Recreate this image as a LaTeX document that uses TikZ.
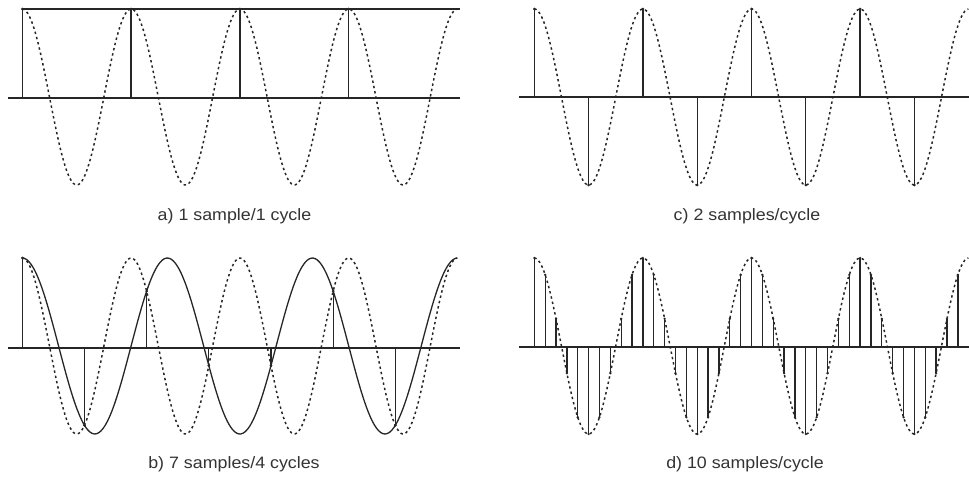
\documentclass[tikz,border=0pt]{standalone}
\usepackage{fontspec}
\setmainfont{Liberation Sans}
\usepackage{graphicx}
\tikzset{
  dotcurve/.style={line width=1.5pt, dash pattern=on 2.4pt off 3pt, black!85},
  solidcurve/.style={line width=1.3pt, black!85},
  stem/.style={line width=1.3pt, black!85},
  axisline/.style={line width=1.3pt, black!85},
  tipdot/.style={fill=black!85},
  caption/.style={font=\fontsize{16.5}{19}\selectfont, text=black!80, inner sep=0pt, anchor=base}
}
\newcommand{\capt}[1]{\scalebox{1.08}[1]{#1}}
\begin{document}
\begin{tikzpicture}[x=1pt,y=-1pt]
\useasboundingbox (0,0) rectangle (969,477);
% ---------- panel a ----------
\def\xa{22.3}\def\Pa{108.8}\def\yca{97}\def\Aa{88}
\draw[axisline] (8,98) -- (460,98);
\draw[solidcurve] (\xa,\yca-\Aa) -- (460,\yca-\Aa);
\draw[dotcurve] plot[variable=\t, domain=0:4, samples=240, smooth] ({\xa+\t*\Pa},{\yca-\Aa*cos(360*\t)});
\foreach \k in {0,...,3}{
  \draw[stem] (\xa+\k*\Pa,98) -- (\xa+\k*\Pa,\yca-\Aa);
  \fill[tipdot] (\xa+\k*\Pa,\yca-\Aa) circle (1.5pt);
}
\node[caption] (capa) at (234.5,220) {\capt{a) 1 sample/1 cycle}};
% ---------- panel b ----------
\def\ycb{346}
\draw[axisline] (8,348) -- (460,348);
\draw[dotcurve] plot[variable=\t, domain=0:4, samples=240, smooth] ({\xa+\t*\Pa},{\ycb-\Aa*cos(360*\t)});
\draw[solidcurve] plot[variable=\t, domain=0:4, samples=200, smooth] ({\xa+\t*\Pa},{\ycb-\Aa*cos(270*\t)});
\foreach \k in {0,...,6}{
  \pgfmathsetmacro{\sx}{\xa+\k*4*\Pa/7}
  \pgfmathsetmacro{\sy}{\ycb-\Aa*cos(360*4*\k/7)}
  \draw[stem] (\sx,348) -- (\sx,\sy);
  \fill[tipdot] (\sx,\sy) circle (1.5pt);
}
\node[caption] (capb) at (234,468) {\capt{b) 7 samples/4 cycles}};
% ---------- panel c ----------
\def\xc{534.3}\def\Pc{108.6}
\draw[axisline] (519,97) -- (969,97);
\draw[dotcurve] plot[variable=\t, domain=0:4, samples=240, smooth] ({\xc+\t*\Pc},{\yca-\Aa*cos(360*\t)});
\foreach \k in {0,...,7}{
  \pgfmathsetmacro{\sx}{\xc+\k*\Pc/2}
  \pgfmathsetmacro{\sy}{\yca-\Aa*cos(180*\k)}
  \draw[stem] (\sx,97) -- (\sx,\sy);
  \fill[tipdot] (\sx,\sy) circle (1.5pt);
}
\node[caption] (capc) at (747,220) {\capt{c) 2 samples/cycle}};
% ---------- panel d ----------
\draw[axisline] (519,347) -- (969,347);
\draw[dotcurve] plot[variable=\t, domain=0:4, samples=240, smooth] ({\xc+\t*\Pc},{\ycb-\Aa*cos(360*\t)});
\foreach \k in {0,...,39}{
  \pgfmathsetmacro{\sx}{\xc+\k*\Pc/10}
  \pgfmathsetmacro{\sy}{\ycb-\Aa*cos(36*\k)}
  \draw[stem] (\sx,347) -- (\sx,\sy);
  \fill[tipdot] (\sx,\sy) circle (1.3pt);
}
\node[caption] (capd) at (745,468) {\capt{d) 10 samples/cycle}};
\end{tikzpicture}
\end{document}
